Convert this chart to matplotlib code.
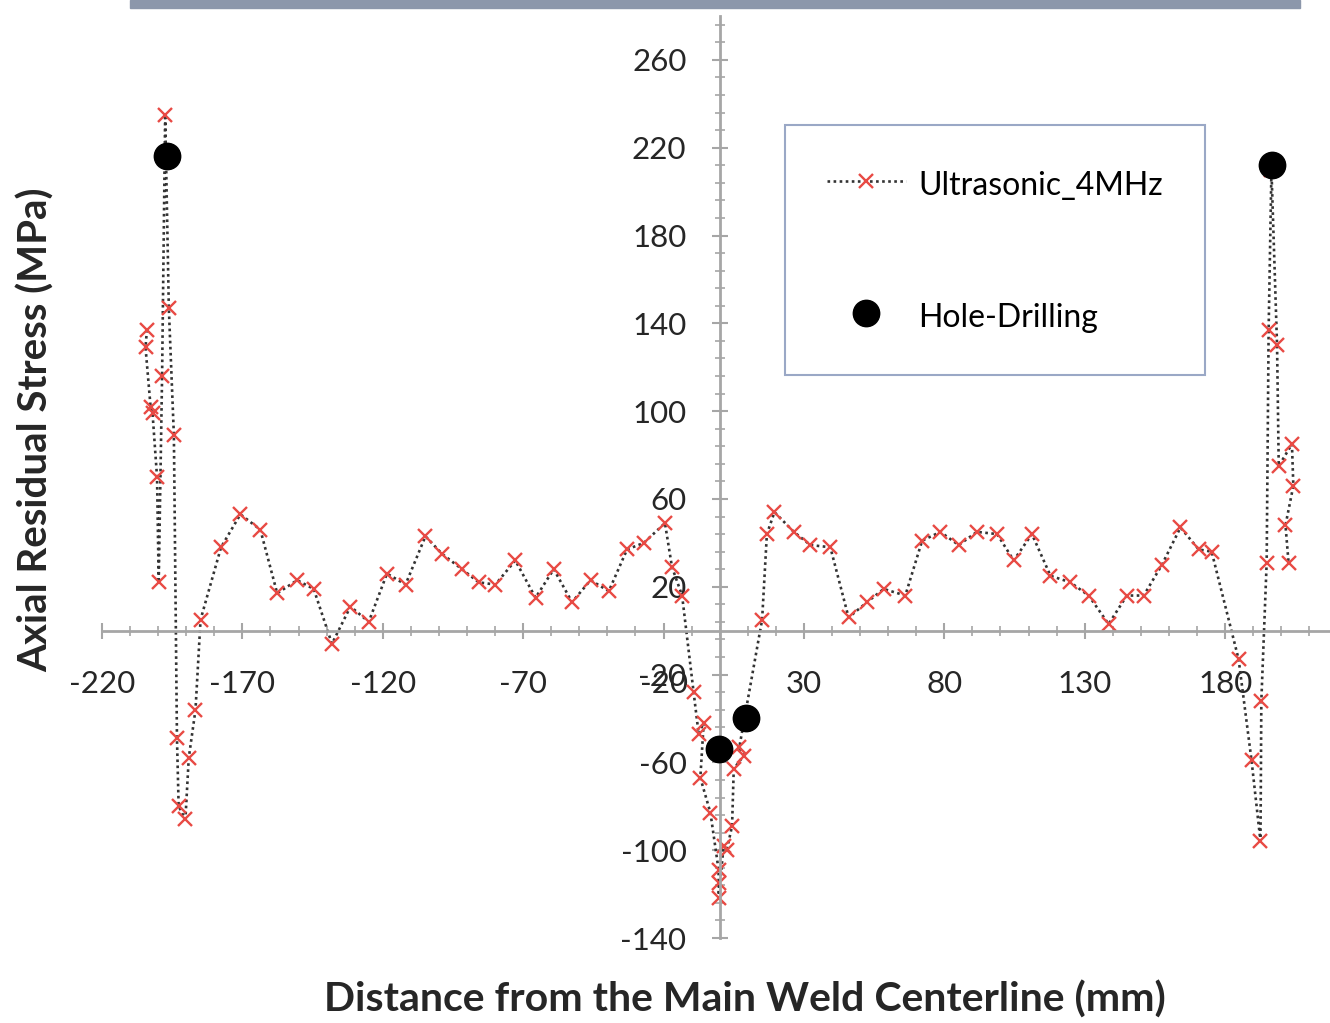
import numpy as np
import matplotlib
matplotlib.use('Agg')
import matplotlib.pyplot as plt
from matplotlib.ticker import FixedLocator
from matplotlib.patches import Rectangle

plt.rcParams['font.family'] = ['Lato', 'DejaVu Sans']
plt.rcParams['axes.unicode_minus'] = False

# Ultrasonic (4 MHz) readings, in the order they are joined by the dotted line
us_x = [-204.0, -204.5, -202.7, -202.0, -200.4, -199.8, -198.6, -197.5, -196.2, -194.4,
        -193.3, -192.7, -190.3, -189.1, -186.7, -184.9, -177.6, -170.7, -163.6, -157.6,
        -150.5, -144.6, -138.1, -131.5, -125.0, -118.5, -111.9, -104.8, -98.9, -91.8,
        -85.8, -79.9, -72.8, -65.6, -59.1, -52.6, -46.0, -39.5, -33.0, -27.0,
        -19.5, -17.0, -13.4, -9.3, -7.5, -5.7, -6.9, -3.3, -0.4, -0.4,
        -0.4, 1.4, 2.5, 4.4, 5.0, 8.5, 7.0, 15.1, 16.8, 19.5,
        26.4, 32.3, 39.4, 45.9, 52.5, 58.4, 66.1, 72.1, 78.6, 85.1,
        91.6, 98.8, 104.7, 111.2, 117.8, 124.9, 131.4, 138.5, 145.0, 151.0,
        157.5, 164.1, 170.6, 175.2, 184.8, 189.4, 192.6, 192.9, 194.8, 195.5,
        196.5, 198.5, 199.1, 203.8, 204.3, 201.5, 202.6]
us_y = [137, 129, 102, 99, 70, 22, 116, 235, 147, 89,
        -49, -80, -86, -58, -36, 5, 38, 53, 46, 17,
        23, 19, -6, 11, 4, 26, 21, 43, 35, 28,
        22, 21, 32, 15, 28, 13, 23, 18, 37, 40,
        49, 29, 16, -28, -47, -42, -67, -83, -109, -115,
        -122, -98, -100, -89, -63, -57, -53, 5, 44, 54,
        45, 39, 38, 6, 13, 19, 16, 41, 45, 39,
        45, 44, 32, 44, 25, 22, 16, 3, 16, 16,
        30, 47, 37, 36, -13, -59, -96, -32, 31, 137,
        210, 130, 75, 85, 66, 48, 31]

# Hole-drilling measurements
hd_x = [-196.8, -0.4, 9.3, 196.7]
hd_y = [216, -54, -40, 212]

x_ticks = [-220, -170, -120, -70, -20, 30, 80, 130, 180]
y_ticks = [-140, -100, -60, -20, 20, 60, 100, 140, 180, 220, 260]

W, H = 1330, 1023
fig = plt.figure(figsize=(W / 100, H / 100), dpi=100)
ax = fig.add_axes([102 / W, 85 / H, 1227 / W, 922 / H])

ax.plot(us_x, us_y, linestyle=(0, (1, 1.3)), color='#333333', lw=1.9,
        marker='x', ms=10.5, mec='#e84a44', mew=1.7, label='Ultrasonic_4MHz')
ax.plot(hd_x, hd_y, 'o', color='black', ms=19, label='Hole-Drilling', zorder=3)

ax.set_xlim(-220, 217)
ax.set_ylim(-140, 280)

# axes cross at the origin, Excel style
for s in ['top', 'right']:
    ax.spines[s].set_visible(False)
ax.spines['left'].set_position(('data', 0))
ax.spines['bottom'].set_position(('data', 0))
for s in ['left', 'bottom']:
    ax.spines[s].set_color('#a6a6a6')
    ax.spines[s].set_linewidth(2)

ax.xaxis.set_major_locator(FixedLocator(x_ticks))
ax.yaxis.set_major_locator(FixedLocator(y_ticks))
ax.xaxis.set_minor_locator(FixedLocator(np.arange(-220, 218, 10)))
ax.yaxis.set_minor_locator(FixedLocator(np.arange(-140, 281, 8)))
ax.tick_params(which='major', direction='inout', length=12, width=1.5,
               color='#a6a6a6', labelsize=22.5, labelcolor='#262626')
ax.tick_params(which='minor', direction='inout', length=7, width=1.2, color='#a6a6a6')
ax.tick_params(axis='x', which='major', pad=22)
ax.tick_params(axis='y', which='major', pad=18)

fig.text(36 / W, 1 - 430 / H, 'Axial Residual Stress (MPa)', rotation=90,
         ha='center', va='center', fontsize=29, fontweight='bold', color='#262626')
fig.text(745 / W, 1 - 1000 / H, 'Distance from the Main Weld Centerline (mm)',
         ha='center', va='center', fontsize=29.5, fontweight='bold', color='#262626')

leg = ax.legend(loc='upper left', bbox_to_anchor=(785 / W, 1 - 125 / H),
                bbox_transform=fig.transFigure, fontsize=23, frameon=True,
                fancybox=False, edgecolor='#8193b8', labelspacing=3.05,
                borderpad=1.3, handlelength=2.5, handletextpad=0.38,
                handleheight=1.3, borderaxespad=0)
leg.get_frame().set_linewidth(1.5)

# strip of the frame above the chart
fig.add_artist(Rectangle((130 / W, 1 - 8 / H), 1170 / W, 8 / H,
                         transform=fig.transFigure, color='#8c97ab'))

fig.savefig('out.png', dpi=100)
